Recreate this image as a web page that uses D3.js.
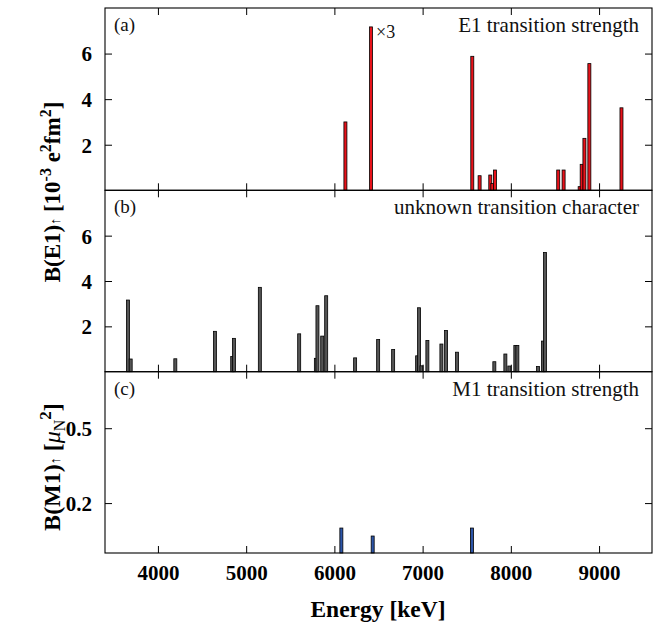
<!DOCTYPE html>
<html><head><meta charset="utf-8">
<script src="https://cdn.jsdelivr.net/npm/d3@7"></script>
<style>body{margin:0;background:#fff}svg{display:block}text{font-family:"Liberation Serif",serif}</style>
</head><body>
<svg id="c" width="667" height="630"></svg>
<script>
// Data (energies in keV, strengths)
const e1Energy = [6125, 6415, 7563, 7646, 7767, 7790, 7820, 8537, 8598, 8780, 8803, 8834, 8890, 9254];
const e1Value  = [3.0, 7.17, 5.88, 0.64, 0.67, 0.3, 0.89, 0.89, 0.89, 0.16, 1.14, 2.28, 5.56, 3.62];
const unkEnergy = [3660, 3691, 4197, 4646, 4842, 4861, 5155, 5601, 5790, 5808, 5862, 5907, 6235, 6496, 6666, 6938, 6960, 6987, 7054, 7213, 7266, 7390, 7813, 7938, 7983, 8051, 8074, 8308, 8365, 8387];
const unkValue  = [3.16, 0.56, 0.57, 1.78, 0.67, 1.47, 3.72, 1.67, 0.59, 2.91, 1.57, 3.35, 0.61, 1.42, 0.98, 0.7, 2.82, 0.26, 1.38, 1.22, 1.82, 0.86, 0.44, 0.78, 0.25, 1.16, 1.16, 0.23, 1.35, 5.26];
const m1Energy = [6079, 6434, 7559];
const m1Value  = [0.1, 0.068, 0.1];
const xTicks = [4000, 5000, 6000, 7000, 8000, 9000];
const e1Ticks = [2, 4, 6];
const m1Ticks = [0.2, 0.5];

const svg = d3.select("#c");
const L = 105, R = 652;
const x = d3.scaleLinear().domain([3400, 9600]).range([L, R]);
const font = "Liberation Serif";

const panels = [
  {top: 8, bot: 190.3, dom: [0, 8], ticks: e1Ticks, E: e1Energy, V: e1Value, fill: "#e8121a", label: "(a)", title: "E1 transition strength", fmt: d3.format("d")},
  {top: 190.3, bot: 371.7, dom: [0, 8], ticks: e1Ticks, E: unkEnergy, V: unkValue, fill: "#555555", label: "(b)", title: "unknown transition character", fmt: d3.format("d")},
  {top: 371.7, bot: 553, dom: [0, 0.7264], ticks: m1Ticks, E: m1Energy, V: m1Value, fill: "#2d55a8", label: "(c)", title: "M1 transition strength", fmt: d3.format(".1f")}
];

const TL = 7;
panels.forEach((p, i) => {
  const y = d3.scaleLinear().domain(p.dom).range([p.bot, p.top]);
  const g = svg.append("g");
  g.selectAll("rect.bar").data(p.E.map((e, k) => ({e, v: p.V[k]}))).join("rect")
    .attr("x", d => x(d.e) - 1.5).attr("width", 3)
    .attr("y", d => y(d.v)).attr("height", d => y(0) - y(d.v))
    .attr("fill", p.fill).attr("stroke", "#000").attr("stroke-width", 0.8);
  const bottom = g.append("g").attr("transform", `translate(0,${p.bot})`)
    .call(d3.axisBottom(x).tickValues(xTicks).tickSizeInner(-TL).tickSizeOuter(0).tickFormat(i === 2 ? d3.format("d") : ""));
  const topAx = g.append("g").attr("transform", `translate(0,${p.top})`)
    .call(d3.axisTop(x).tickValues(xTicks).tickSizeInner(-TL).tickSizeOuter(0).tickFormat(""));
  const left = g.append("g").attr("transform", `translate(${L},0)`)
    .call(d3.axisLeft(y).tickValues(p.ticks).tickSizeInner(-TL).tickSizeOuter(0).tickFormat(p.fmt).tickPadding(13));
  const right = g.append("g").attr("transform", `translate(${R},0)`)
    .call(d3.axisRight(y).tickValues(p.ticks).tickSizeInner(-TL).tickSizeOuter(0).tickFormat(""));
  [bottom, topAx, left, right].forEach(a => {
    a.attr("font-family", font);
    a.select(".domain").remove();
    a.selectAll("line").attr("stroke", "#000").attr("stroke-width", 1);
    a.selectAll("text").attr("font-family", font).attr("font-weight", "bold").attr("font-size", 21).attr("fill", "#000");
  });
  bottom.selectAll("text").attr("dy", "1.15em");
  left.selectAll("text").attr("dy", "0.35em");
  g.append("rect").attr("x", L).attr("y", p.top).attr("width", R - L).attr("height", p.bot - p.top)
    .attr("fill", "none").attr("stroke", "#000").attr("stroke-width", 1.1);
  g.append("text").attr("x", 114).attr("y", p.top + 23).text(p.label)
    .attr("font-family", font).attr("font-size", 19).attr("fill", "#111");
  g.append("text").attr("x", 639).attr("y", p.top + 24).attr("text-anchor", "end").text(p.title)
    .attr("font-family", font).attr("font-size", 21).attr("fill", "#111");
  if (i === 0) {
    const k = 1;
    g.append("text").attr("x", x(e1Energy[k]) + 5).attr("y", y(e1Value[k]) + 11).text("×3")
      .attr("font-family", font).attr("font-size", 18).attr("fill", "#111");
  }
});

// y labels
const yl1 = svg.append("text").attr("transform", "translate(60,192) rotate(-90)")
  .attr("text-anchor", "middle").attr("font-family", font).attr("font-weight", "bold").attr("font-size", 23);
yl1.append("tspan").text("B(E1)");
yl1.append("tspan").text("↑").attr("font-size", 14);
yl1.append("tspan").text(" [10");
yl1.append("tspan").text("-3").attr("dy", -9).attr("font-size", 16);
yl1.append("tspan").text(" e").attr("dy", 9);
yl1.append("tspan").text("2").attr("dy", -9).attr("font-size", 16);
yl1.append("tspan").text("fm").attr("dy", 9);
yl1.append("tspan").text("2").attr("dy", -9).attr("font-size", 16);
yl1.append("tspan").text("]").attr("dy", 9);

const yl2 = svg.append("text").attr("transform", "translate(60,467) rotate(-90)")
  .attr("text-anchor", "middle").attr("font-family", font).attr("font-weight", "bold").attr("font-size", 24);
yl2.append("tspan").text("B(M1)");
yl2.append("tspan").text("↑").attr("font-size", 14);
yl2.append("tspan").text(" [");
yl2.append("tspan").text("μ").attr("font-style", "italic").attr("font-weight", "normal");
yl2.append("tspan").text("N").attr("font-size", 16).attr("dy", 5).attr("font-weight", "normal");
yl2.append("tspan").text("2").attr("dy", -14).attr("font-size", 17);
yl2.append("tspan").text("]").attr("dy", 9);

svg.append("text").attr("x", 378).attr("y", 617).attr("text-anchor", "middle")
  .attr("font-family", font).attr("font-weight", "bold").attr("font-size", 23.5).text("Energy [keV]");
</script>
</body></html>
